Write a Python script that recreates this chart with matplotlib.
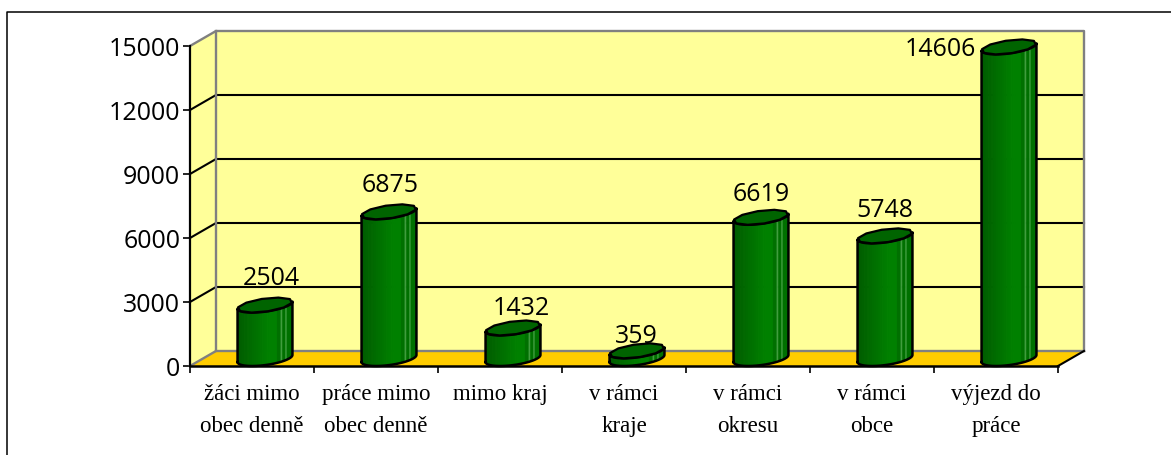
import numpy as np
import matplotlib
matplotlib.use("Agg")
import matplotlib.pyplot as plt
from matplotlib.patches import Polygon

categories = ["žáci mimo\nobec denně", "práce mimo\nobec denně", "mimo kraj", "v rámci\nkraje",
              "v rámci\nokresu", "v rámci\nobce", "výjezd do\npráce"]
values = [2504, 6875, 1432, 359, 6619, 5748, 14606]
y_ticks = [0, 3000, 6000, 9000, 12000, 15000]

W, H = 1171, 456
fig = plt.figure(figsize=(W / 100, H / 100), dpi=100)
ax = fig.add_axes([190 / W, 1 - 367 / H, 868 / W, 320 / H])
ax.set_xlim(0, 7)
ax.set_ylim(0, 15000)
ax.patch.set_visible(False)
for s in ax.spines.values():
    s.set_visible(False)

# depth of the fake 3d box, in data units
dx = 26 / 124
dy = 15 / 320 * 15000
xmax = 7
ymax = 15000

# walls and floor
ax.add_patch(Polygon([(0, 0), (dx, dy), (dx, ymax + dy), (0, ymax)], fc="#FFFF99", ec="none", clip_on=False, zorder=1))
ax.add_patch(Polygon([(dx, dy), (xmax + dx, dy), (xmax + dx, ymax + dy), (dx, ymax + dy)], fc="#FFFF99", ec="none", clip_on=False, zorder=1))
ax.add_patch(Polygon([(0, 0), (xmax, 0), (xmax + dx, dy), (dx, dy)], fc="#FFCC00", ec="none", clip_on=False, zorder=1))

for t in y_ticks[1:-1]:
    ax.plot([0, dx, xmax + dx], [t, t + dy, t + dy], color="black", lw=1.5, clip_on=False, zorder=2)

gray = "#808080"
ax.plot([0, dx, dx], [0, dy, ymax + dy], color=gray, lw=1.7, clip_on=False, zorder=2)
ax.plot([dx, xmax + dx], [dy, dy], color=gray, lw=1.7, clip_on=False, zorder=2)
ax.plot([0, dx, xmax + dx, xmax + dx], [ymax, ymax + dy, ymax + dy, dy], color=gray, lw=1.7, clip_on=False, zorder=2)
ax.plot([xmax, xmax + dx], [0, dy], color="black", lw=1.5, clip_on=False, zorder=2)

# front axis lines and ticks
ax.plot([0, 0], [0, ymax], color="black", lw=1.6, clip_on=False, zorder=3)
ax.plot([0, xmax], [0, 0], color="black", lw=1.8, clip_on=False, zorder=6)
ax.set_yticks(y_ticks)
ax.set_xticks(range(8))
ax.set_xticklabels([])
ax.tick_params(axis="both", length=5, width=1.2, color="black")
ax.tick_params(axis="y", labelsize=18, pad=2)
for lab in ax.get_yticklabels():
    lab.set_family("Open Sans")

for i, c in enumerate(categories):
    lines = c.split("\n")
    for j, l in enumerate(lines):
        ax.annotate(l, (i + 0.5, 0), xytext=(0, -28 - j * 32), textcoords="offset pixels", ha="center",
                    va="center", family="Liberation Serif", fontsize=16.5, annotation_clip=False)

# cylinders
rx = 0.195
n_side = 40
green_l, green_m = np.array([0, 0.36, 0]), np.array([0, 0.5, 0])
for i, v in enumerate(values):
    cx = i + 0.5 + dx / 2
    # the top is a rough polygon in the original, not a clean ellipse
    t = np.linspace(0, 2 * np.pi, 11)[:-1] + 0.3
    ex = cx + rx * np.cos(t) + dx / 2 * np.sin(t)
    ey = dy / 2 * np.sin(t)
    # front half of the rim: from the left extreme round to the right extreme
    a0 = np.arctan2(dx / 2, rx)
    ts = np.linspace(a0 + np.pi, a0 + 2 * np.pi, n_side + 1)
    fx = cx + rx * np.cos(ts) + dx / 2 * np.sin(ts)
    fy = dy / 2 * np.sin(ts) + dy / 2
    for k in range(n_side):
        f = (fx[k] - fx[0]) / (fx[-1] - fx[0])
        col = green_l + (green_m - green_l) * min(f / 0.55, 1)
        if f > 0.72:
            col = np.array([0, 0.44, 0])
        if 0.78 < f < 0.8 or 0.88 < f < 0.9:
            col = np.array([0.25, 0.62, 0.25])
        ax.add_patch(Polygon([(fx[k], fy[k]), (fx[k + 1], fy[k + 1]), (fx[k + 1], fy[k + 1] + v), (fx[k], fy[k] + v)],
                             fc=col, ec=col, lw=0.8, clip_on=False, zorder=4))
    ox = np.r_[fx, fx[::-1], fx[0]]
    oy = np.r_[fy, fy[::-1] + v, fy[0]]
    ax.plot(ox, oy, color="black", lw=1.8, clip_on=False, zorder=5)
    ax.add_patch(Polygon(np.c_[ex, ey + dy / 2 + v], fc="#006400", ec="black", lw=1.6, joinstyle="round", clip_on=False, zorder=5))

# value labels sit by hand in the original
label_dx = [6, 1, 8, -1, 0, 0, -69]
label_dy = [28, 27, 20, 15, 24, 26, -2]
for i, v in enumerate(values):
    ax.annotate(str(v), (i + 0.5 + dx / 2, v + dy / 2), xytext=(label_dx[i], label_dy[i]), textcoords="offset pixels",
                ha="center", va="center", family="Open Sans", fontsize=18, annotation_clip=False, zorder=7)

# outer frame, cut off at the right and bottom of the picture
fig.add_artist(plt.Line2D([6.5 / W, 6.5 / W, 1], [0, 1 - 12.5 / H, 1 - 12.5 / H], color="black", lw=1.1))

fig.savefig("out.png", dpi=100)
